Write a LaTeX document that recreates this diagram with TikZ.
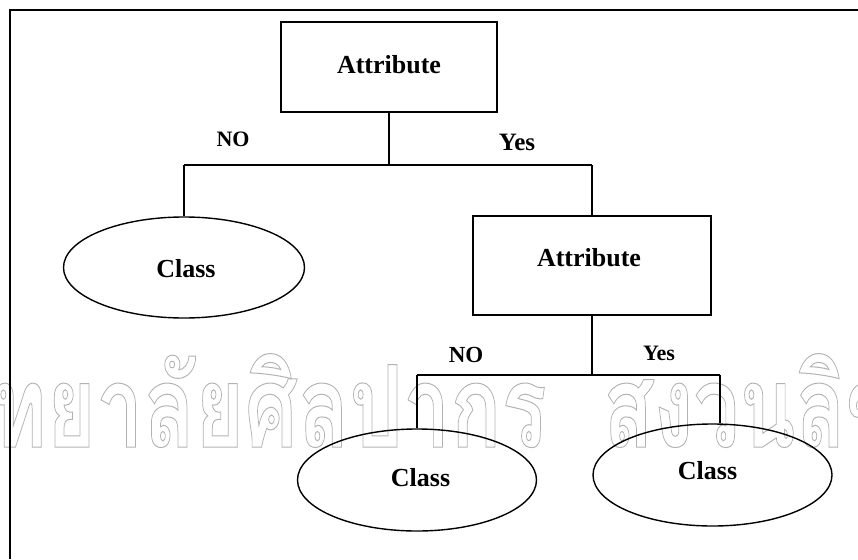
\documentclass[tikz,border=0pt]{standalone}
\usepackage{fontspec}
\setmainfont{Liberation Serif}
\newfontfamily\thaiwm[Script=Thai]{Loma}
\usetikzlibrary{shapes.geometric}

% stroked (hollow) glyphs for the background mark
\newcommand\hollowtext[1]{\special{pdf:literal direct 1 Tr 1 w}#1\special{pdf:literal direct 0 Tr}}

\tikzset{
  attrbox/.style={draw, line width=1.6pt, rectangle, inner sep=0pt},
  classnode/.style={draw, line width=1.4pt, ellipse, inner sep=0pt},
  link/.style={line width=1.6pt},
  frameline/.style={line width=1.5pt},
  lbl/.style={inner sep=0pt, font=\bfseries\fontsize{#1}{#1}\selectfont},
  lbl/.default=26,
  wm/.style={inner sep=0pt, text depth=0pt, text=black!30,
    font=\thaiwm\bfseries\fontsize{114}{114}\selectfont}
}

\begin{document}
\begin{tikzpicture}[x=1pt, y=-1pt]
  \useasboundingbox (0,0) rectangle (858,559);

  % background mark, cut by the page edges
  \begin{scope}
    \clip (0,0) rectangle (858,559);
    \node[wm, anchor=base east] (wm1) at (547,447) {\scalebox{0.74}[1]{\hollowtext{ทยาลัยศิลปากร}}};
    \node[wm, anchor=base west] (wm2) at (603,447) {\scalebox{0.72}[1]{\hollowtext{สงวนลิขสิทธิ์}}};
  \end{scope}

  % frame
  \coordinate (fr) at (858,10);
  \coordinate (fc) at (10,10);
  \coordinate (fb) at (10,559);
  \draw[frameline] (fr) -- (fc) -- (fb);

  % shapes
  \node[attrbox, minimum width=216pt, minimum height=90pt] (a1) at (389,67) {};
  \node[attrbox, minimum width=238pt, minimum height=99pt] (a2) at (592,265.5) {};
  \node[classnode, minimum width=241pt, minimum height=101pt] (c1) at (184,267.5) {};
  \node[classnode, minimum width=239pt, minimum height=102pt] (c2) at (417,480) {};
  \node[classnode, minimum width=239pt, minimum height=102pt] (c3) at (712.5,475) {};

  % texts
  \node[lbl] (t1) at (389,65) {Attribute};
  \node[lbl] (t2) at (589,257.5) {Attribute};
  \node[lbl] (t3) at (186,269) {Class};
  \node[lbl] (t4) at (420.5,478) {Class};
  \node[lbl] (t5) at (707.5,471) {Class};
  \node[lbl=22] (n1) at (233,139) {NO};
  \node[lbl=25] (y1) at (517,142) {Yes};
  \node[lbl=23] (n2) at (466,355) {NO};
  \node[lbl=22] (y2) at (659,353) {Yes};

  % branch joints
  \coordinate (j1) at (389,165);
  \coordinate (jl) at (184,165);
  \coordinate (jr) at (592,165);
  \coordinate (j2) at (592,375);
  \coordinate (kl) at (417,375);
  \coordinate (kr) at (720,375);

  % connectors
  \draw[link] (a1.south) -- (j1);
  \draw[link] (jl) -- (jr);
  \draw[link] (jl) -- (c1.north);
  \draw[link] (jr) -- (a2.north);
  \draw[link] (a2.south) -- (j2);
  \draw[link] (kl) -- (kr);
  \draw[link] (kl) -- (c2.north);
  \draw[link] (kr) -- (kr |- c3.north);
\end{tikzpicture}
\end{document}
